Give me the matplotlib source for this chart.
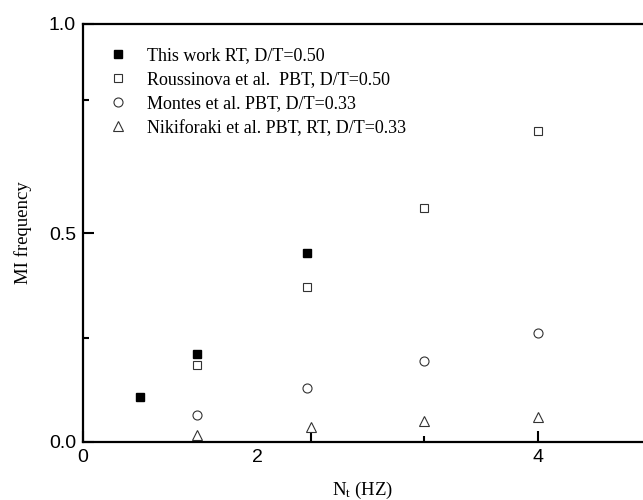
import matplotlib
matplotlib.use("Agg")
import matplotlib.pyplot as plt

# ----------------------------------------
# Data
# ----------------------------------------
this_work_x = [0.50, 1.00, 1.97]
this_work_y = [0.108, 0.211, 0.452]

roussinova_x = [1.00, 1.97, 3.00, 4.00]
roussinova_y = [0.184, 0.371, 0.560, 0.744]

montes_x = [1.00, 1.97, 3.00, 4.00]
montes_y = [0.065, 0.129, 0.194, 0.261]

nikiforaki_x = [1.00, 2.00, 3.00, 4.00]
nikiforaki_y = [0.017, 0.036, 0.050, 0.060]

labels = [
  "This work RT, D/T=0.50",
  "Roussinova et al.  PBT, D/T=0.50",
  "Montes et al. PBT, D/T=0.33",
  "Nikiforaki et al. PBT, RT, D/T=0.33",
]

# tick layout as it appears in the picture
x_major = [0, 1.53, 2, 4]
x_major_labels = ["0", "2", "", "4"]
x_minor = [1, 3]
y_major = [0.0, 0.5, 1.0]
y_major_labels = ["0.0", "0.5", "1.0"]
y_minor = [0.25, 0.817]

# ----------------------------------------
# Plot
# ----------------------------------------
plt.rcParams["mathtext.default"] = "regular"
serif = "Liberation Serif"
sans = "Liberation Sans"

fig = plt.figure(figsize=(6.43, 5.0), dpi=100)
ax = fig.add_axes([83 / 643, 58 / 500, 560 / 643, 418 / 500])

edge = "#333333"
ax.plot(this_work_x, this_work_y, linestyle="", marker="s", markersize=6,
        color="black", label=labels[0])
ax.plot(roussinova_x, roussinova_y, linestyle="", marker="s", markersize=6,
        markerfacecolor="white", markeredgecolor=edge, markeredgewidth=0.8,
        label=labels[1])
ax.plot(montes_x, montes_y, linestyle="", marker="o", markersize=6.5,
        markerfacecolor="white", markeredgecolor=edge, markeredgewidth=0.8,
        label=labels[2])
ax.plot(nikiforaki_x, nikiforaki_y, linestyle="", marker="^", markersize=7,
        markerfacecolor="white", markeredgecolor=edge, markeredgewidth=0.8,
        label=labels[3])

ax.set_xlim(0, 560 / 113.75)
ax.set_ylim(0, 1.0)

ax.set_xticks(x_major)
ax.set_xticklabels(x_major_labels, fontfamily=sans, fontsize=14)
ax.set_xticks(x_minor, minor=True)
ax.xaxis.get_major_ticks()[1].tick1line.set_visible(False)

ax.set_yticks(y_major)
ax.set_yticklabels(y_major_labels, fontfamily=sans, fontsize=14)
ax.set_yticks(y_minor, minor=True)

ax.tick_params(which="major", direction="in", length=8, width=1.5, pad=5)
ax.tick_params(which="minor", direction="in", length=4, width=1.5)
ax.tick_params(top=False, right=False, which="both")

for side in ["left", "bottom", "top"]:
  ax.spines[side].set_linewidth(1.6)
ax.spines["right"].set_visible(False)

ax.set_xlabel("N$_t$ (HZ)", fontfamily=serif, fontsize=13.5, labelpad=10)
ax.set_ylabel("MI frequency", fontfamily=serif, fontsize=13.5, labelpad=12)

ax.legend(
  loc="upper left",
  bbox_to_anchor=(0.047, 0.945),
  frameon=False,
  borderpad=0,
  borderaxespad=0,
  handlelength=1.0,
  handletextpad=1.1,
  labelspacing=0.4,
  prop={"family": serif, "size": 13},
)

fig.savefig("out.png", dpi=100)
